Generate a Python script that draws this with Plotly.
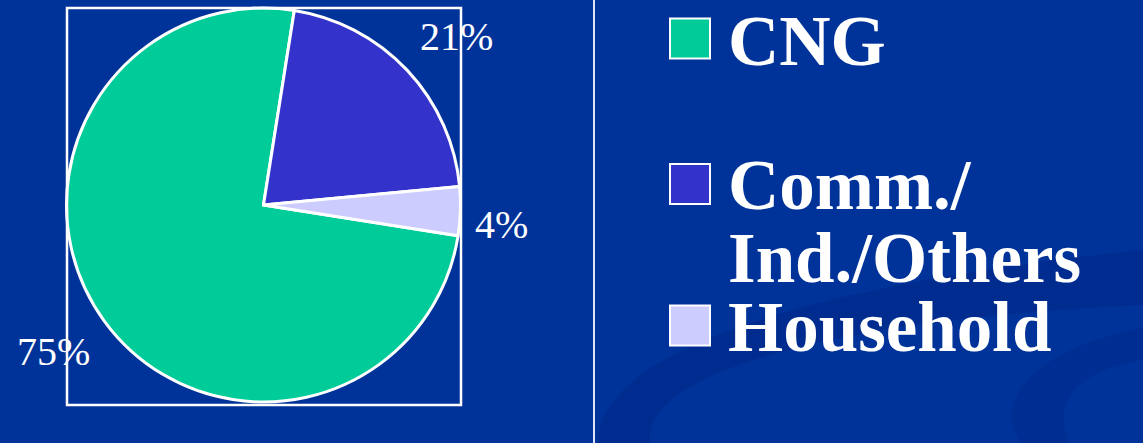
import plotly.graph_objects as go

# ---- data ----
categories = ["CNG", "Comm./Ind./Others", "Household"]
values = [75, 21, 4]
colors = ["#00CC99", "#3333CC", "#CCCCFF"]
legend_lines = [["CNG"], ["Comm./", "Ind./Others"], ["Household"]]

W, H = 1143, 443
BG = "#003399"

def px(x):
    return x / W

def py(y):
    return 1 - y / H

fig = go.Figure()

# pie: centre (263.5, 205), radius 197 px
cx, cy, r = 263.5, 205, 197
fig.add_trace(go.Pie(
    labels=categories,
    values=values,
    sort=False,
    direction="clockwise",
    rotation=99,
    textinfo="none",
    hoverinfo="label+percent",
    marker=dict(colors=colors, line=dict(color="white", width=3)),
    domain=dict(x=[px(cx - r), px(cx + r)], y=[py(cy + r), py(cy - r)]),
    showlegend=False,
))

shapes = []
# subtle background swooshes (decoration)
shapes.append(dict(type="path", xref="paper", yref="paper", layer="below",
    path=("M {},{} C {},{} {},{} {},{} L {},{} C {},{} {},{} {},{} Z").format(
        px(598), py(443), px(600), py(330), px(900), py(275), px(1143), py(250),
        px(1143), py(305), px(900), py(315), px(640), py(360), px(650), py(443)),
    fillcolor="rgba(0,20,110,0.2)", line=dict(width=0)))
shapes.append(dict(type="path", xref="paper", yref="paper", layer="below",
    path=("M {},{} C {},{} {},{} {},{} L {},{} C {},{} {},{} {},{} Z").format(
        px(1020), py(443), px(990), py(390), px(1050), py(345), px(1143), py(328),
        px(1143), py(360), px(1080), py(370), px(1050), py(400), px(1070), py(443)),
    fillcolor="rgba(0,20,110,0.18)", line=dict(width=0)))
# frame around the pie
shapes.append(dict(type="rect", xref="paper", yref="paper",
    x0=px(67), x1=px(461), y0=py(405), y1=py(8),
    line=dict(color="white", width=2.5)))
# vertical divider
shapes.append(dict(type="line", xref="paper", yref="paper",
    x0=px(594), x1=px(594), y0=0, y1=1,
    line=dict(color="#DDE4F5", width=2)))

annotations = []
# percentage labels
label_pos = [(53, 351), (456, 37), (501, 224)]
total = sum(values)
for v, (lx, ly) in zip(values, label_pos):
    annotations.append(dict(
        x=px(lx), y=py(ly), xref="paper", yref="paper",
        text=f"{round(100 * v / total)}%", showarrow=False,
        xanchor="center", yanchor="middle",
        font=dict(family="Liberation Serif", size=40, color="white")))

# custom legend
square_centers = [38.5, 184, 325.5]
line_centers = [[41], [185, 258], [327]]
for col, sc, lines, lcs in zip(colors, square_centers, legend_lines, line_centers):
    shapes.append(dict(type="rect", xref="paper", yref="paper",
        x0=px(670), x1=px(710), y0=py(sc + 20), y1=py(sc - 20),
        fillcolor=col, line=dict(color="white", width=2)))
    for t, lc in zip(lines, lcs):
        annotations.append(dict(
            x=px(726), y=py(lc), xref="paper", yref="paper",
            text=f"<b>{t}</b>", showarrow=False,
            xanchor="left", yanchor="middle",
            font=dict(family="Liberation Serif", size=71, color="white")))

fig.update_layout(
    width=W, height=H,
    margin=dict(l=0, r=0, t=0, b=0),
    paper_bgcolor=BG, plot_bgcolor=BG,
    shapes=shapes, annotations=annotations,
    showlegend=False,
)

fig.write_html(
    "out.html",
    config={"displayModeBar": False},
    post_script="document.body.style.margin='0';document.body.style.background='#003399';"
                "document.body.style.overflow='hidden';",
)
